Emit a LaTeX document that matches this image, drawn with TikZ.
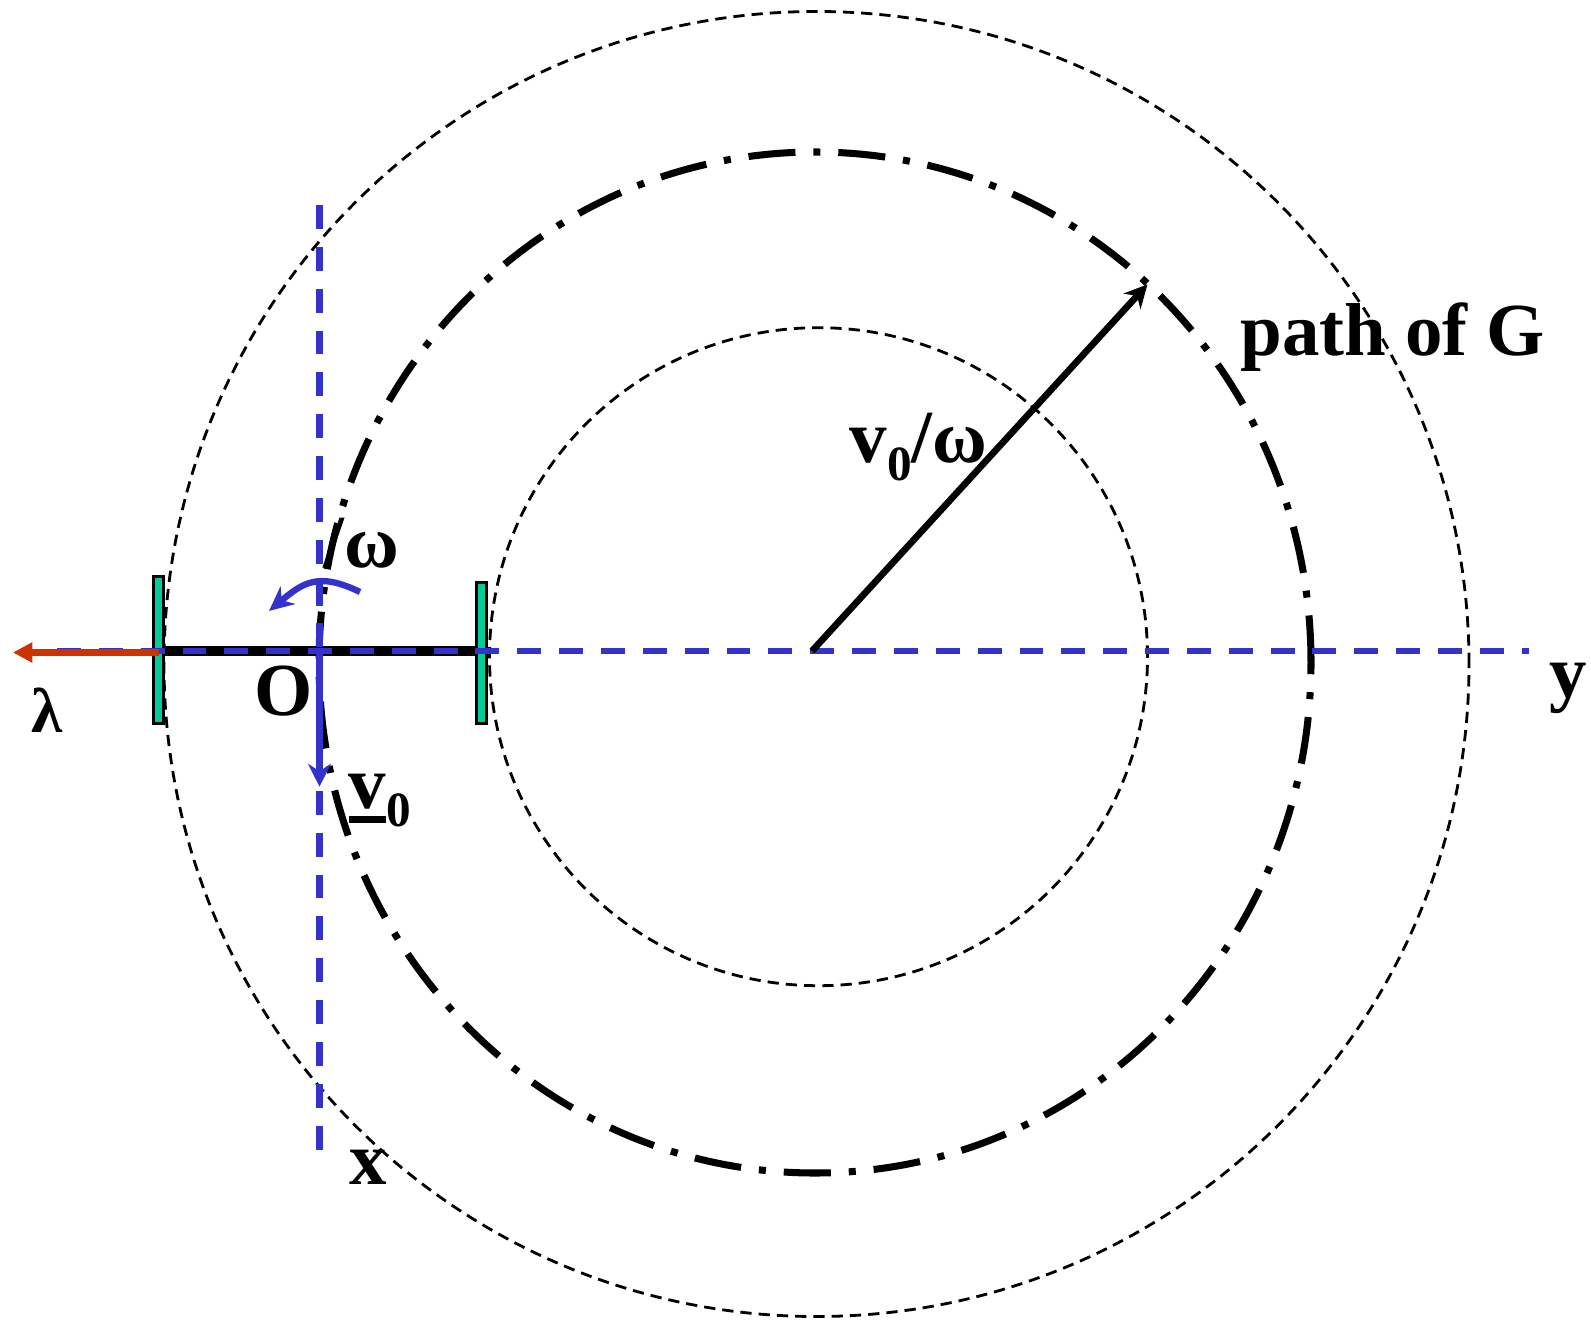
\documentclass[tikz,border=0pt]{standalone}
\usepackage{fontspec}
\setmainfont{Liberation Serif}
\usepackage{xcolor}
\usetikzlibrary{arrows.meta}
\definecolor{axisblue}{RGB}{51,51,204}
\definecolor{wheelgreen}{RGB}{0,204,153}
\definecolor{forcered}{RGB}{204,51,0}
\newcommand{\lowsub}[1]{\raisebox{-0.18cm}{\fontsize{14}{14}\selectfont #1}}

\begin{document}
\begin{tikzpicture}[x=0.01cm, y=0.01cm,
    lbl/.style={anchor=base west, inner sep=0pt, font=\fontsize{21.3}{25}\selectfont\bfseries},
    thindash/.style={line width=0.8pt, dash pattern=on 3.2pt off 2pt},
    pathG/.style={line width=2pt, dash pattern=on 13.4pt off 5.1pt on 2pt off 5.1pt},
    axis/.style={axisblue, line width=1.9pt, dash pattern=on 6.8pt off 5.1pt},
    wheel/.style={rectangle, draw, fill=wheelgreen, line width=0.7pt, inner sep=0pt, minimum width=0.1cm},
    vec/.style={line width=1.9pt, -{Stealth[length=6.5pt, width=6.5pt]}}
]
    \useasboundingbox (0,0) rectangle (1591,1320);

    \coordinate (G) at (812,669);
    \coordinate (O) at (319.5,669);
    \coordinate (Gtip) at (1147.5,1035.6);
    \coordinate (ystart) at (57,669);
    \coordinate (yend) at (1529,669);
    \coordinate (xstart) at (319.5,1115);
    \coordinate (xend) at (319.5,170);
    \coordinate (vtip) at (319.5,533.3);
    \coordinate (axL) at (158.5,669);
    \coordinate (axR) at (481.5,669);
    \coordinate (lamtip) at (13,667.5);

    \draw[thindash] (816.5,656) circle[radius=652.5];
    \draw[thindash] (818.5,663.3) circle[radius=329];
    \draw[pathG] (815,657.5) ellipse[x radius=496, y radius=510.5];

    \draw[line width=3pt] (axL) -- (axR);
    \node[wheel, minimum height=1.47cm] (wl) at (158.5,670) {};
    \node[wheel, minimum height=1.41cm] (wr) at (481.5,667) {};

    \draw[axis] (ystart) -- (yend);
    \draw[axis] (xstart) -- (xend);

    \draw[forcered, line width=1.8pt, -{Triangle[length=5.5pt, width=5.5pt]}] (wl.center |- lamtip) -- (lamtip);
    \draw[axisblue, vec] (O) -- (vtip);
    \draw[axisblue, line width=1.8pt, -{Stealth[length=7pt, width=6.5pt]}]
        (360,728) .. controls (319,748) and (303.6,738) .. (269,709);
    \draw[vec] (G) -- (Gtip);

    \node[lbl] (pathlbl) at (1240,965) {path of G};
    \node[lbl] (radlbl) at (849,858) {v\lowsub{0}/ω};
    \node[lbl] (omegalbl) at (323,753) {/ω};
    \node[lbl] (olbl) at (254,605) {O};
    \node[lbl, font=\fontsize{18}{20}\selectfont\bfseries] (lamlbl) at (31,588) {λ};
    \node[lbl] (vlbl) at (348,512) {\rlap{\rule[-0.15cm]{0.37cm}{0.07cm}}v\lowsub{0}};
    \node[lbl] (xlbl) at (349,136) {x};
    \node[lbl] (ylbl) at (1549,623) {y};
\end{tikzpicture}
\end{document}
